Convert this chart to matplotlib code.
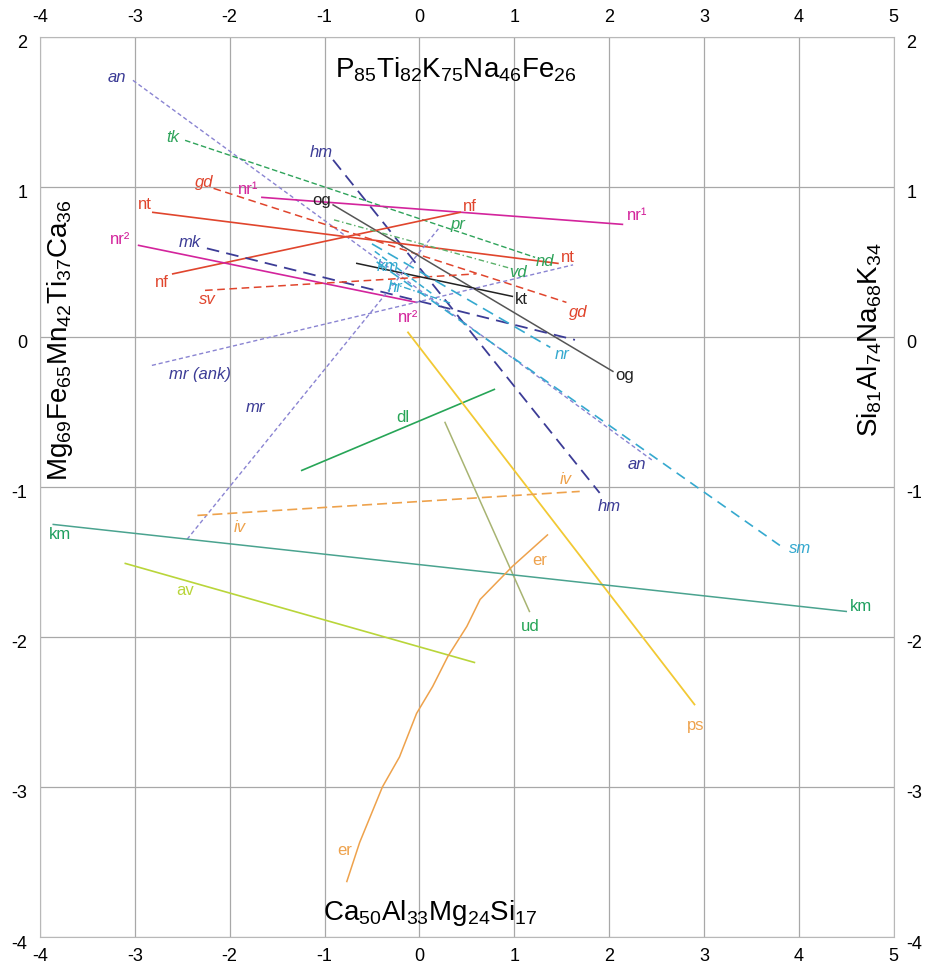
import numpy as np
import matplotlib
matplotlib.use('Agg')
import matplotlib.pyplot as plt
import matplotlib.transforms as mtransforms

plt.rcParams['font.family'] = ['Liberation Sans', 'DejaVu Sans']
plt.rcParams['mathtext.fontset'] = 'custom'
plt.rcParams['mathtext.rm'] = 'Liberation Sans'
plt.rcParams['mathtext.it'] = 'Liberation Sans:italic'
plt.rcParams['axes.unicode_minus'] = False

# 1 - data: straight trend segments (start, end)

seg_names = ['an', 'tk', 'hm', 'gd', 'nr1', 'og', 'nt', 'nf', 'nr2', 'mk',
             'sv', 'kt', 'mr_ank', 'mr', 'dl', 'ud', 'ps', 'iv', 'km', 'av',
             'nr_c', 'sm', 'km_c', 'hr', 'vd']
seg_x = [(-3.02, 2.45), (-2.47, 1.22), (-0.91, 1.90), (-2.17, 1.55), (-1.66, 2.14),
         (-0.91, 2.04), (-2.81, 1.46), (-2.60, 0.43), (-2.96, -0.03), (-2.24, 1.64),
         (-2.26, 0.60), (-0.66, 0.98), (-2.82, 1.62), (-2.45, 0.20), (-1.24, 0.79),
         (0.27, 1.16), (-0.12, 2.90), (-2.34, 1.69), (-3.86, 4.50), (-3.10, 0.58),
         (-0.50, 1.38), (-0.45, 3.80), (-0.47, 0.15), (-0.30, 0.35), (-0.90, 1.00)]
seg_y = [(1.71, -0.82), (1.31, 0.53), (1.18, -1.04), (0.99, 0.23), (0.93, 0.75),
         (0.88, -0.23), (0.83, 0.49), (0.42, 0.83), (0.61, 0.23), (0.59, -0.02),
         (0.31, 0.42), (0.49, 0.27), (-0.19, 0.48), (-1.35, 0.72), (-0.89, -0.35),
         (-0.57, -1.83), (0.03, -2.45), (-1.19, -1.03), (-1.25, -1.83), (-1.51, -2.17),
         (0.62, -0.07), (0.50, -1.39), (0.57, 0.28), (0.36, 0.22), (0.78, 0.45)]

# er is a curved trend
er_x = [-0.765, -0.63, -0.39, -0.21, -0.03, 0.14, 0.30, 0.50, 0.64, 0.98, 1.35]
er_y = [-3.63, -3.37, -3.00, -2.80, -2.51, -2.33, -2.13, -1.93, -1.75, -1.53, -1.32]

# labels at the ends of the trends
lab_text = ['an', 'an', 'tk', 'hm', 'hm', 'gd', 'gd', 'nr¹', 'nr¹', 'og', 'og',
            'nt', 'nt', 'nf', 'nf', 'nr²', 'nr²', 'mk', 'sv', 'kt', 'mr (ank)',
            'mr', 'dl', 'ud', 'ps', 'iv', 'iv', 'km', 'km', 'av', 'er', 'er',
            'km', 'hr', 'nr', 'sm', 'pr', 'vd', 'nd']
lab_x = [-3.19, 2.29, -2.60, -1.03, 2.00, -2.27, 1.67, -1.81, 2.29, -1.03, 2.16,
         -2.89, 1.56, -2.71, 0.53, -3.16, -0.12, -2.42, -2.24, 1.07, -2.31,
         -1.73, -0.17, 1.17, 2.91, -1.89, 1.54, -3.79, 4.66, -2.47, -0.79, 1.27,
         -0.33, -0.26, 1.50, 4.01, 0.40, 1.04, 1.32]
lab_y = [1.73, -0.85, 1.33, 1.23, -1.13, 1.03, 0.16, 0.98, 0.81, 0.91, -0.26,
         0.88, 0.53, 0.36, 0.87, 0.65, 0.13, 0.63, 0.25, 0.25, -0.25,
         -0.47, -0.54, -1.93, -2.59, -1.27, -0.95, -1.32, -1.80, -1.69, -3.42, -1.49,
         0.47, 0.33, -0.12, -1.41, 0.75, 0.43, 0.50]

# 2 - styles

red = '#e0452d'
mag = '#d3249c'
indigo = '#3c3c96'
lila = '#8a84d2'
green = '#2ea35a'
cyan = '#35a9cf'
orange = '#eea24c'

style = {
    'an': (lila, (0, (3, 2)), 1.0),
    'tk': (green, (0, (4, 2)), 1.0),
    'hm': (indigo, (0, (7, 4)), 1.3),
    'gd': (red, (0, (5, 3)), 1.1),
    'nr1': (mag, '-', 1.2),
    'og': ('#555555', '-', 1.1),
    'nt': (red, '-', 1.2),
    'nf': (red, '-', 1.2),
    'nr2': (mag, '-', 1.2),
    'mk': (indigo, (0, (7, 4)), 1.3),
    'sv': (red, (0, (5, 3)), 1.1),
    'kt': ('#222222', '-', 1.1),
    'mr_ank': (lila, (0, (3, 2)), 1.0),
    'mr': (lila, (0, (3, 2)), 1.0),
    'dl': ('#27a557', '-', 1.2),
    'ud': ('#a8b472', '-', 1.1),
    'ps': ('#f2c934', '-', 1.3),
    'iv': (orange, (0, (6, 3)), 1.2),
    'km': ('#4aa38f', '-', 1.1),
    'av': ('#b9d53a', '-', 1.2),
    'nr_c': (cyan, (0, (7, 4)), 1.2),
    'sm': (cyan, (0, (6, 4)), 1.2),
    'km_c': (cyan, (0, (4, 2)), 1.1),
    'hr': (cyan, (0, (5, 2, 1, 2)), 1.0),
    'vd': ('#5ab06a', (0, (4, 2, 1, 2)), 1.0),
}

lab_color = {'an': indigo, 'tk': green, 'hm': indigo, 'gd': red, 'nr¹': mag,
             'og': '#222222', 'nt': red, 'nf': red, 'nr²': mag, 'mk': indigo,
             'sv': red, 'kt': '#222222', 'mr (ank)': indigo, 'mr': indigo,
             'dl': '#27a557', 'ud': '#27a557', 'ps': orange, 'iv': orange,
             'km': '#20a060', 'av': '#b9d53a', 'er': orange, 'hr': cyan,
             'nr': cyan, 'sm': cyan, 'pr': green, 'vd': green, 'nd': green}
italic = ['an', 'tk', 'hm', 'gd', 'mk', 'sv', 'mr (ank)', 'mr', 'iv', 'hr',
          'nr', 'sm', 'pr', 'vd', 'nd']

# 3 - plot

fig = plt.figure(figsize=(9.29, 9.69), dpi=100)
ax = fig.add_axes([0.043, 0.033, 0.919, 0.929])

for name, xs, ys in zip(seg_names, seg_x, seg_y):
    c, ls, lw = style[name]
    ax.plot(xs, ys, color=c, linestyle=ls, linewidth=lw)

ax.plot(er_x, er_y, color=orange, linewidth=1.1)

for i, (t, x, y) in enumerate(zip(lab_text, lab_x, lab_y)):
    col = lab_color[t]
    sty = 'normal'
    if t in italic:
        sty = 'italic'
    # cyan km of the second group
    if t == 'km' and i >= 32:
        col = cyan
        sty = 'italic'
    ax.text(x, y, t, color=col, style=sty, fontsize=12, ha='center', va='center')

# corner formulae
ax.text(0.38, 1.78, r'$\mathregular{P_{85}Ti_{82}K_{75}Na_{46}Fe_{26}}$',
        fontsize=20, ha='center', va='center')
ax.text(0.11, -3.84, r'$\mathregular{Ca_{50}Al_{33}Mg_{24}Si_{17}}$',
        fontsize=20, ha='center', va='center')
ax.text(-3.79, -0.02, r'$\mathregular{Mg_{69}Fe_{65}Mn_{42}Ti_{37}Ca_{36}}$',
        fontsize=20, ha='center', va='center', rotation=90)
ax.text(4.75, -0.02, r'$\mathregular{Si_{81}Al_{74}Na_{68}K_{34}}$',
        fontsize=20, ha='center', va='center', rotation=90)

ax.set_xlim(-4, 5)
ax.set_ylim(-4, 2)
ax.set_xticks(np.arange(-4, 6))
ax.set_yticks(np.arange(-4, 3))
ax.grid(color='#a8a8a8', linewidth=0.9)
for s in ax.spines.values():
    s.set_color('#b8b8b8')
ax.tick_params(length=0, labelsize=13, top=True, right=True,
               labeltop=True, labelright=True)
ax.tick_params(axis='y', pad=9)
ax.tick_params(axis='x', pad=8)

# y labels sit a little below their grid lines
shift = mtransforms.ScaledTranslation(0, -5 / 100, fig.dpi_scale_trans)
for t in ax.yaxis.get_major_ticks():
    t.label1.set_transform(t.label1.get_transform() + shift)
    t.label2.set_transform(t.label2.get_transform() + shift)

plt.savefig('out.png', dpi=100)
